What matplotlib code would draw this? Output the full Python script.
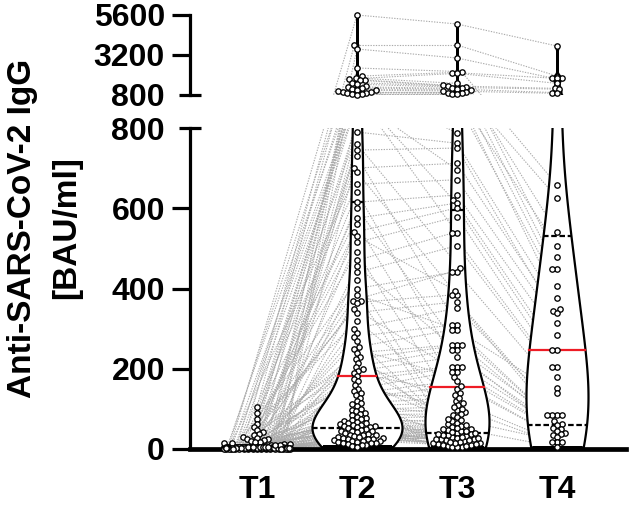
import numpy as np
import matplotlib
matplotlib.use("Agg")
import matplotlib.pyplot as plt
from matplotlib.collections import LineCollection
from matplotlib.path import Path
from matplotlib.transforms import blended_transform_factory

nan = np.nan

groups = ["T1", "T2", "T3", "T4"]

# one value per participant, same order in every list (nan = no sample)
t1 = [3, 105, 5, 8, 90, 4, 12, 2, 75, 3,
      nan, 9, 2, 62, 1, 4, 7, 2, 55, 6,
      1, 4, nan, 48, 3, 5, 2, 42, 1, 3,
      6, 4, 38, 7, 1, 3, 5, 2, 35, 1,
      4, nan, 2, 3, 30, 1, 5, 2, 4, 28,
      3, 1, 6, 2, nan, 26, 2, 5, 3, 1,
      4, 6, 2, 24, 3, 1, 5, 2, 4, 6,
      2, 3, 1, 22, 5, 2, 4, nan, 6, 1,
      20, 2, 4, 3, 5, 1, 2, 18, 3, 4,
      2, 5, 1, 3, 17, 2, 4, 1, 3, nan,
      2, 4, 1, 3, 6, 2, 15, 1, 3, 2,
      4, 1, 14, 2, 3, 5, 1, 2, 4, 3,
      1, 6, 2, 13, 1, 4, 2, 11, 1, 3,
      2, 10, 4, 2, 3]

t2 = [5600, 3800, 3560, 2420, 1940, 1820, 1760, 1700, 1680, 1550,
      1450, 1340, 1300, 1220, 1180, 1120, 1080, 1040, 1000, 960,
      930, 900, 880, 850, 830, 790, 760, 745, 730, 700,
      690, 660, 640, 615, 600, 575, 560, 540, 530, 515,
      490, 470, 455, 440, 420, 400, 385, 370, 370, 365,
      350, 340, 320, 300, 290, 280, 270, 255, 250, 240,
      230, 225, 215, 205, 200, 195, 190, 182, 175, 170,
      160, 150, 145, 140, 135, 128, 120, 115, 112, 108,
      100, 98, 95, 90, 88, 85, 80, 78, 75, 72,
      70, 68, 66, 64, 62, 60, 60, 58, 57, 56,
      55, 52, 50, 48, 46, 45, 44, 42, 40, 38,
      36, 35, 34, 32, 30, 29, 28, 27, 26, 25,
      24, 22, 21, 20, 19, 18, 17, 16, 15, 14,
      12, 11, 10, 8, 6]

t3 = [5060, 3800, 3020, 2200, 2150, 1500, 2100, 1400, 1350, 1300,
      1250, 787, 1200, 1150, 621, 1100, 1050, nan, 1000, 950,
      900, 696, 880, 850, 538, 762, 451, 750, 309, 712,
      384, 671, 205, 633, 259, 613, 150, 601, 395, 579,
      96, 538, 247, 507, 62, 442, 297, 442, 30, 384,
      193, 367, 120, 351, nan, 309, 40, 297, 180, 259,
      20, 259, 110, 247, 70, 230, 140, 205, 50, 205,
      92, 193, 12, 170, 135, 158, 28, 128, 85, 115,
      9, 105, 76, 100, 45, 88, 22, 80, 66, 72,
      nan, 58, 35, 55, 14, 52, 48, 42, 8, 38,
      33, 26, 24, 18, 6, 16, 10, nan, 5, 4,
      45, 30, 60, 22, 40, 15, 35, 26, 50, 12,
      28, 18, 8, 38, nan, nan, nan, nan, nan, nan,
      nan, nan, nan, nan, nan]

t4 = [3740, 1850, 1820, 658, 1800, 626, 1500, nan, 1200, 540,
      1150, nan, 505, 950, nan, 479, 900, nan, 449, nan,
      449, nan, 406, 376, nan, 349, nan, 345, nan, 340,
      nan, 314, nan, 284, nan, 247, nan, 247, nan, 205,
      nan, 205, nan, 180, nan, 152, 140, nan, nan, 85,
      nan, 85, nan, 85, nan, 85, nan, 70, nan, 62,
      nan, 60, nan, 52, nan, 50, nan, 45, nan, 40,
      nan, 38, nan, 35, nan, 30, nan, nan, nan, 17,
      nan, nan, nan, 17, nan, nan, nan, nan, nan, 17,
      nan, nan, nan, nan, nan, 5, nan, nan, nan, nan,
      nan, nan, nan, nan, nan, nan, nan, nan, nan, nan,
      nan, nan, nan, nan, nan, nan, nan, nan, nan, nan,
      nan, nan, nan, nan, nan, nan, nan, nan, nan, nan,
      nan, nan, nan, nan, nan]

low_ticks = [0, 200, 400, 600, 800]
high_ticks = [800, 3200, 5600]

plt.rcParams["font.family"] = ["Liberation Sans", "DejaVu Sans"]
plt.rcParams["font.weight"] = "bold"

# broken y axis drawn on one axes: 0-800 on 321 px, 33 px gap, 800-5600 on 80 px
LOW, GAP, HIGH = 321.0, 33.0, 80.0
BRK, TOP = 800.0, 5600.0


def fwd(v):
    v = np.asarray(v, dtype=float)
    return np.where(v <= BRK, v * LOW / BRK,
                    LOW + GAP + (v - BRK) * HIGH / (TOP - BRK))


def inv(u):
    u = np.asarray(u, dtype=float)
    hi = BRK + (u - LOW - GAP) * (TOP - BRK) / HIGH
    return np.where(u <= LOW, u * BRK / LOW, np.where(u < LOW + GAP, BRK, hi))


def swarm(ypix, d, maxw):
    # beeswarm in pixels; if a point cannot fit within maxw it is put
    # where it overlaps least
    offs = np.zeros(len(ypix))
    placed = []
    for i in np.argsort(ypix, kind="stable"):
        y = ypix[i]
        near = [(px, py) for px, py in placed if abs(py - y) < d]
        cands = [0.0]
        for px, py in near:
            dx = np.sqrt(d * d - (py - y) ** 2)
            cands += [px - dx, px + dx]
        cands.sort(key=abs)
        best = None
        for c in cands:
            if abs(c) > maxw:
                break
            if all((c - px) ** 2 + (y - py) ** 2 >= d * d - 1e-6 for px, py in near):
                best = c
                break
        if best is None:
            grid = np.linspace(-maxw, maxw, 45)
            pts = np.array(near)
            dist = np.min((grid[:, None] - pts[:, 0]) ** 2 + (y - pts[:, 1]) ** 2, axis=1)
            best = grid[np.argmax(dist)]
        offs[i] = best
        placed.append((best, y))
    return offs


fig = plt.figure(figsize=(6.29, 5.08), dpi=100)
ax = fig.add_axes([190 / 629, 59 / 508, 436 / 629, 434 / 508])
ax.set_yscale("function", functions=(fwd, inv))
ax.set_xlim(0.33, 4.69)
ax.set_ylim(0, TOP)

# clip region = the two panels, leaving the gap empty
yb = LOW / (LOW + GAP + HIGH)
yt = (LOW + GAP) / (LOW + GAP + HIGH)
clip = Path([(-0.1, -0.1), (1.1, -0.1), (1.1, yb), (-0.1, yb), (-0.1, -0.1),
             (-0.1, yt), (1.1, yt), (1.1, 1.1), (-0.1, 1.1), (-0.1, yt)],
            [Path.MOVETO, Path.LINETO, Path.LINETO, Path.LINETO, Path.CLOSEPOLY] * 2)

data = [np.array(t, dtype=float) for t in (t1, t2, t3, t4)]
spacing = [4.4, 4.8, 4.8, 4.8]
maxw = [33, 60, 60, 60]
half = [0.08, 0.45, 0.32, 0.31]
bandwidth = [10, 58, 110, 170]

p = ax.transData.transform([(1, 100), (2, 100)])
ppx = p[1, 0] - p[0, 0]
xs = []
for k, vals in enumerate(data):
    ok = ~np.isnan(vals)
    ypix = ax.transData.transform(np.column_stack([np.full(ok.sum(), k + 1.0), vals[ok]]))[:, 1]
    x = np.full(len(vals), nan)
    x[ok] = k + 1 + swarm(ypix, spacing[k], maxw[k]) / ppx
    xs.append(x)

# paired lines between consecutive visits
segs = []
for k in range(3):
    for i in range(len(t2)):
        if not np.isnan(data[k][i]) and not np.isnan(data[k + 1][i]):
            segs.append([(xs[k][i], data[k][i]), (xs[k + 1][i], data[k + 1][i])])
lc = LineCollection(segs, colors="#ababab", linewidths=0.8,
                    linestyles=[(0, (1.2, 1.2))], zorder=1)
ax.add_collection(lc, autolim=False)
lc.set_clip_path(clip, ax.transAxes)

# violins (truncated at min / max) with median and quartiles
for k, vals in enumerate(data):
    v = vals[~np.isnan(vals)]
    ys = np.linspace(v.min(), v.max(), 3000)
    dens = np.exp(-0.5 * ((ys[:, None] - v) / bandwidth[k]) ** 2).sum(axis=1)
    w = dens / dens.max() * half[k]
    body = ax.fill_betweenx(ys, k + 1 - w, k + 1 + w, facecolor="white",
                            edgecolor="black", linewidth=1.6, zorder=2)
    body.set_clip_path(clip, ax.transAxes)
    q1, med, q3 = np.percentile(v, [25, 50, 75], method="weibull")
    for q, col, ls in ((q1, "black", (0, (2.5, 1.2))), (med, "#ee1c25", "-"),
                       (q3, "black", (0, (2.5, 1.2)))):
        wq = np.interp(q, ys, w)
        ln, = ax.plot([k + 1 - wq, k + 1 + wq], [q, q], color=col, lw=1.6,
                      linestyle=ls, zorder=3)
        ln.set_clip_path(clip, ax.transAxes)

for k in range(4):
    ax.scatter(xs[k], data[k], s=15, facecolor="white", edgecolor="black",
               linewidths=0.95, zorder=4, clip_on=False)

# axes styling
for s in ("left", "top", "right"):
    ax.spines[s].set_visible(False)
ax.spines["bottom"].set_linewidth(3.4)
ax.spines["bottom"].set_capstyle("projecting")
tr = blended_transform_factory(ax.transAxes, ax.transData)
cap = 11 / 436
for seg in ([0, BRK], [BRK + 0.01, TOP]):
    ax.plot([0, 0], seg, transform=tr, color="black", lw=2.3, clip_on=False,
            solid_capstyle="projecting")
for yv in (BRK, BRK + 0.01):
    ax.plot([-cap, cap], [yv, yv], transform=tr, color="black", lw=2.3,
            clip_on=False, solid_capstyle="butt")

ax.set_yticks(low_ticks + [high_ticks[0] + 0.01] + high_ticks[1:])
ax.set_yticklabels([str(t) for t in low_ticks + high_ticks])
ax.tick_params(axis="y", length=13, width=2.3, pad=5, labelsize=23)
for i, tk in enumerate(ax.yaxis.get_major_ticks()):
    if i in (4, 5):
        tk.tick1line.set_visible(False)
ax.set_xticks([1, 2, 3, 4], groups)
ax.tick_params(axis="x", length=0, pad=19, labelsize=23)

fig.text(23 / 629, 1 - 228 / 508, "Anti-SARS-CoV-2 IgG", rotation=90,
         ha="center", va="center", fontsize=24, fontweight="bold")
fig.text(67 / 629, 1 - 228 / 508, "[BAU/ml]", rotation=90,
         ha="center", va="center", fontsize=24, fontweight="bold")

fig.savefig("out.png", dpi=100)
